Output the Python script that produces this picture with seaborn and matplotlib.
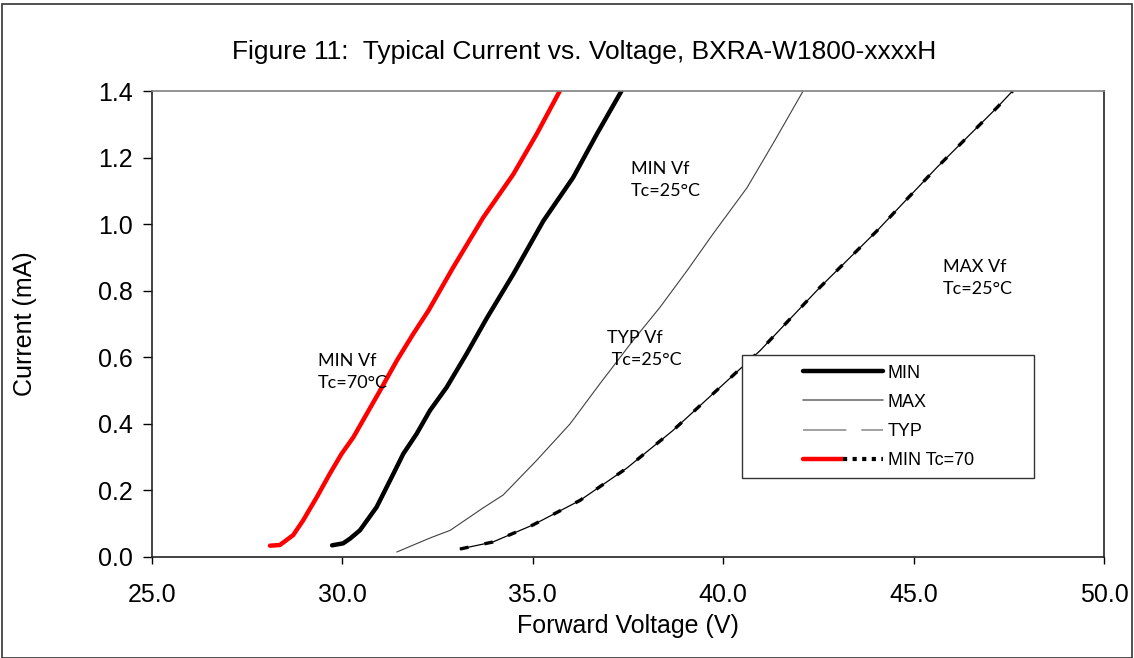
import matplotlib
matplotlib.use("Agg")

import matplotlib.pyplot as plt
import seaborn as sns
from matplotlib.lines import Line2D
from matplotlib.patches import Rectangle
from matplotlib.legend_handler import HandlerTuple

# ===========================
# Data
# ===========================

# MIN Vf, Tc=70C (red)
min70_v = [28.1, 28.36, 28.71, 28.97, 29.33, 29.67, 29.98, 30.29, 30.64, 30.99,
           31.43, 31.86, 32.26, 32.91, 33.7, 34.49, 35.1, 35.71]
min70_i = [0.034, 0.036, 0.066, 0.11, 0.18, 0.25, 0.31, 0.36, 0.43, 0.50,
           0.59, 0.67, 0.74, 0.87, 1.02, 1.15, 1.27, 1.40]

# MIN Vf, Tc=25C (thick black)
min_v = [29.73, 30.02, 30.2, 30.46, 30.9, 31.34, 31.6, 31.95, 32.3, 32.74,
         33.26, 33.79, 34.49, 35.28, 36.06, 36.68, 37.33]
min_i = [0.035, 0.041, 0.055, 0.08, 0.15, 0.25, 0.31, 0.37, 0.44, 0.51,
         0.61, 0.717, 0.85, 1.01, 1.14, 1.27, 1.40]

# TYP Vf, Tc=25C (thin grey)
typ_v = [31.43, 32.3, 32.83, 33.69, 34.22, 35.1, 35.98, 36.76, 37.63, 38.34,
         39.05, 39.73, 40.63, 41.35, 42.1]
typ_i = [0.015, 0.057, 0.08, 0.147, 0.186, 0.29, 0.40, 0.52, 0.65, 0.75,
         0.86, 0.97, 1.11, 1.25, 1.40]

# MAX Vf, Tc=25C (thin black + dashed overlay)
max_v = [33.09, 33.95, 35.0, 36.24, 37.47, 38.68, 39.92, 40.97, 42.54, 44.04, 45.61, 47.19, 47.6]
max_i = [0.024, 0.045, 0.096, 0.17, 0.267, 0.38, 0.51, 0.62, 0.81, 0.98, 1.17, 1.35, 1.40]

x_ticks = [25.0, 30.0, 35.0, 40.0, 45.0, 50.0]
y_ticks = [0.0, 0.2, 0.4, 0.6, 0.8, 1.0, 1.2, 1.4]

# ===========================
# Chart Style
# ===========================

sns.set_style("white")
plt.rcParams["font.family"] = ["Liberation Sans", "DejaVu Sans"]
plt.rcParams["text.color"] = "black"
plt.rcParams["axes.labelcolor"] = "black"

fig = plt.figure(figsize=(11.34, 6.58), dpi=100)
ax = fig.add_axes([0.134, 0.1535, 0.8395, 0.7082])

# ===========================
# Curves
# ===========================

sns.lineplot(x=min70_v, y=min70_i, ax=ax, color="#ff0000", lw=3.2,
             sort=False, solid_capstyle="round", solid_joinstyle="round")
sns.lineplot(x=min_v, y=min_i, ax=ax, color="black", lw=3.2,
             sort=False, solid_capstyle="round", solid_joinstyle="round")
sns.lineplot(x=typ_v, y=typ_i, ax=ax, color="#404040", lw=0.8, sort=False)
sns.lineplot(x=max_v, y=max_i, ax=ax, color="black", lw=0.9, sort=False)
sns.lineplot(x=max_v, y=max_i, ax=ax, color="black", lw=2.4, sort=False,
             linestyle=(0, (2.6, 4.9)))

# ===========================
# Annotations
# ===========================

note_kw = dict(fontfamily=["Lato", "DejaVu Sans"], fontsize=13,
               va="center", ha="left", linespacing=1.45)
ax.text(29.36, 0.556, "MIN Vf\nTc=70°C", **note_kw)
ax.text(37.58, 1.132, "MIN Vf\nTc=25°C", **note_kw)
ax.text(36.95, 0.625, "TYP Vf\n Tc=25°C", **note_kw)
ax.text(45.77, 0.838, "MAX Vf\nTc=25°C", **note_kw)

# ===========================
# Axes
# ===========================

ax.set_xlim(25, 50)
ax.set_ylim(0, 1.4)
ax.set_xticks(x_ticks)
ax.set_yticks(y_ticks)
ax.set_xticklabels([f"{v:.1f}" for v in x_ticks])
ax.set_yticklabels([f"{v:.1f}" for v in y_ticks])
ax.tick_params(axis="both", direction="out", length=6.5, width=1,
               labelsize=18, color="black", labelcolor="black")
ax.tick_params(axis="x", pad=14, length=5)
ax.tick_params(axis="y", pad=7)
ax.tick_params(left=True, bottom=True)

for side in ["left", "bottom", "right"]:
    ax.spines[side].set_color("#222222")
    ax.spines[side].set_linewidth(1.2)
ax.spines["top"].set_color("#808080")
ax.spines["top"].set_linewidth(1.2)

ax.set_xlabel("Forward Voltage (V)", fontsize=18, va="center")
ax.set_ylabel("Current (mA)", fontsize=18, va="center")
ax.xaxis.set_label_coords(0.5, -0.148)
ax.yaxis.set_label_coords(-0.133, 0.5)

fig.text(0.515, 1 - 52 / 658, "Figure 11:  Typical Current vs. Voltage, BXRA-W1800-xxxxH",
         ha="center", va="center", fontsize=19)

# ===========================
# Legend
# ===========================

ax.add_patch(Rectangle((0.62, 0.17), 0.306, 0.263, transform=ax.transAxes,
                       facecolor="white", edgecolor="#333333", lw=1, zorder=4))

h_min = Line2D([], [], color="black", lw=3.2, solid_capstyle="round")
h_max = Line2D([], [], color="#707070", lw=1.2)
h_typ = Line2D([], [], color="#909090", lw=1.2, linestyle=(0, (26, 9)))
h_red = Line2D([], [], color="#ff0000", lw=3.2, solid_capstyle="round")
h_dot = Line2D([], [], color="black", lw=3, linestyle=(0, (1, 1.3)))

leg = ax.legend([h_min, h_max, h_typ, (h_red, h_dot)],
                ["MIN", "MAX", "TYP", "MIN Tc=70"],
                handler_map={tuple: HandlerTuple(ndivide=2, pad=0)},
                loc="upper left", bbox_to_anchor=(0.684, 0.413),
                frameon=False, fontsize=13, handlelength=4.4,
                handletextpad=0.3, labelspacing=0.68, borderpad=0,
                borderaxespad=0)
leg.set_zorder(5)

# outer frame of the figure
fig.add_artist(Rectangle((0.002, 0.0), 0.996, 0.994, transform=fig.transFigure,
                         fill=False, edgecolor="#333333", lw=1.2))

fig.savefig("out.png", dpi=100)
plt.close(fig)
